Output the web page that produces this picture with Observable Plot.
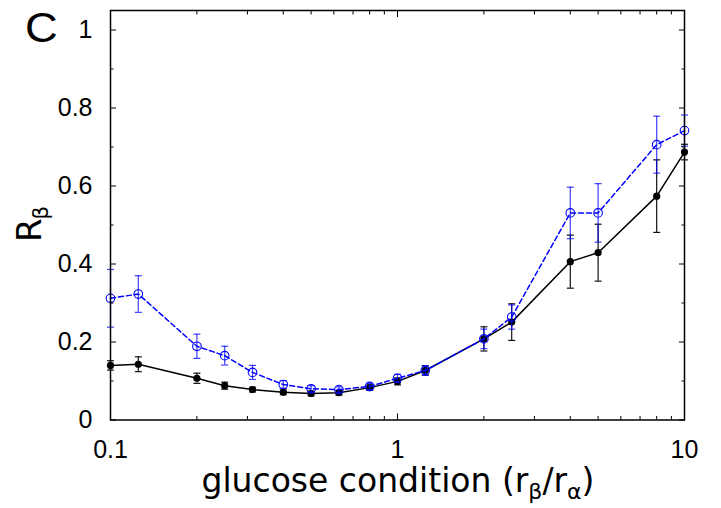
<!DOCTYPE html>
<html>
<head>
<meta charset="utf-8">
<script src="https://cdn.jsdelivr.net/npm/d3@7"></script>
<script src="https://cdn.jsdelivr.net/npm/@observablehq/plot@0.6"></script>
<style>
  html, body { margin: 0; padding: 0; background: #fff; }
</style>
</head>
<body>
<div id="chart"></div>
<script>
// ---- data ----
const glucose = [0.1, 0.125, 0.2, 0.25, 0.3125, 0.4, 0.5, 0.625, 0.8, 1, 1.25, 2, 2.5, 4, 5, 8, 10];
const blackR  = [0.140, 0.143, 0.107, 0.088, 0.078, 0.071, 0.068, 0.070, 0.083, 0.099, 0.127, 0.208, 0.251, 0.406, 0.429, 0.574, 0.687];
const blackErr= [0.012, 0.019, 0.013, 0.009, 0.006, 0.006, 0.006, 0.006, 0.007, 0.009, 0.012, 0.031, 0.047, 0.068, 0.073, 0.093, 0.020];
const blueR   = [0.312, 0.323, 0.189, 0.165, 0.122, 0.091, 0.080, 0.078, 0.086, 0.107, 0.127, 0.208, 0.264, 0.531, 0.531, 0.706, 0.742];
const blueErr = [0.074, 0.047, 0.031, 0.024, 0.018, 0.010, 0.008, 0.007, 0.008, 0.010, 0.012, 0.025, 0.031, 0.066, 0.075, 0.073, 0.040];

const yMajor = [0, 0.2, 0.4, 0.6, 0.8, 1];
const yMinor = [0.1, 0.3, 0.5, 0.7, 0.9];
const xMajor = [0.1, 1, 10];
const xMinor = [0.2, 0.3, 0.4, 0.5, 0.6, 0.7, 0.8, 0.9, 2, 3, 4, 5, 6, 7, 8, 9];

const blackRows = glucose.map((x, i) => ({x, y: blackR[i], lo: blackR[i] - blackErr[i], hi: blackR[i] + blackErr[i]}));
const blueRows  = glucose.map((x, i) => ({x, y: blueR[i],  lo: blueR[i]  - blueErr[i],  hi: blueR[i]  + blueErr[i]}));

const cap = { draw(context) { context.moveTo(-3.5, 0); context.lineTo(3.5, 0); } };
const BLUE = "#0000ff";
const noText = () => "";

const svg = Plot.plot({
  width: 721,
  height: 508,
  marginLeft: 110,
  marginRight: 37,
  marginTop: 10,
  marginBottom: 88.5,
  style: {fontFamily: "Liberation Sans", fontSize: "25px", color: "#000", background: "#fff"},
  x: {type: "log", domain: [0.1, 10]},
  y: {domain: [0, 1.05]},
  marks: [
    // black series
    Plot.ruleX(blackRows, {x: "x", y1: "lo", y2: "hi", stroke: "#111", strokeWidth: 1.2}),
    Plot.dot(blackRows, {x: "x", y: "lo", symbol: cap, stroke: "#111", strokeWidth: 1.2}),
    Plot.dot(blackRows, {x: "x", y: "hi", symbol: cap, stroke: "#111", strokeWidth: 1.2}),
    Plot.line(blackRows, {x: "x", y: "y", stroke: "#000", strokeWidth: 1.5}),
    Plot.dot(blackRows, {x: "x", y: "y", r: 3.6, fill: "#000"}),
    // blue series
    Plot.ruleX(blueRows, {x: "x", y1: "lo", y2: "hi", stroke: BLUE, strokeOpacity: 0.75, strokeWidth: 1.2}),
    Plot.dot(blueRows, {x: "x", y: "lo", symbol: cap, stroke: BLUE, strokeOpacity: 0.75, strokeWidth: 1.2}),
    Plot.dot(blueRows, {x: "x", y: "hi", symbol: cap, stroke: BLUE, strokeOpacity: 0.75, strokeWidth: 1.2}),
    Plot.line(blueRows, {x: "x", y: "y", stroke: BLUE, strokeWidth: 1.5, strokeDasharray: "5,3"}),
    Plot.dot(blueRows, {x: "x", y: "y", r: 4.3, stroke: BLUE, strokeWidth: 1.1, fill: "none"}),
    // frame and inward ticks
    Plot.frame({stroke: "#000", strokeWidth: 1.5}),
    Plot.axisY({ticks: yMajor, tickSize: 0, tickPadding: 18, tickFormat: d => String(d), label: null}),
    Plot.axisY({ticks: yMajor, tickSize: -6, tickFormat: noText, label: null}),
    Plot.axisY({ticks: yMinor, tickSize: -3.5, tickFormat: noText, label: null}),
    Plot.axisY({anchor: "right", ticks: yMajor, tickSize: -6, tickFormat: noText, label: null}),
    Plot.axisY({anchor: "right", ticks: yMinor, tickSize: -3.5, tickFormat: noText, label: null}),
    Plot.axisX({ticks: xMajor, tickSize: 0, tickPadding: 20, tickFormat: d => String(d), label: null}),
    Plot.axisX({ticks: xMajor, tickSize: -6, tickFormat: noText, label: null}),
    Plot.axisX({ticks: xMinor, tickSize: -3.5, tickFormat: noText, label: null}),
    Plot.axisX({anchor: "top", ticks: xMajor, tickSize: -6, tickFormat: noText, label: null}),
    Plot.axisX({anchor: "top", ticks: xMinor, tickSize: -3.5, tickFormat: noText, label: null})
  ]
});

const s = d3.select(svg);
// panel letter
s.append("text").attr("transform", "translate(25,42) scale(1.08,1)").attr("text-anchor", "start")
  .attr("font-family", "Liberation Sans").attr("font-size", 42).attr("fill", "#000").text("C");
// x label
const xl = s.append("text").attr("x", 398).attr("y", 492).attr("text-anchor", "middle")
  .attr("font-family", "DejaVu Sans").attr("font-size", 33).attr("fill", "#000");
xl.append("tspan").text("glucose condition (r");
xl.append("tspan").attr("font-size", 22).attr("dy", 7).text("β");
xl.append("tspan").attr("dy", -7).text("/r");
xl.append("tspan").attr("font-size", 22).attr("dy", 7).text("α");
xl.append("tspan").attr("dy", -7).text(")");
// y label
const yl = s.append("text").attr("transform", "translate(41,224) rotate(-90)").attr("text-anchor", "middle")
  .attr("font-family", "DejaVu Sans").attr("font-size", 34).attr("fill", "#000");
yl.append("tspan").text("R");
yl.append("tspan").attr("font-size", 21).attr("dy", 7).attr("dx", -1).text("β");

document.getElementById("chart").appendChild(svg);
</script>
</body>
</html>
